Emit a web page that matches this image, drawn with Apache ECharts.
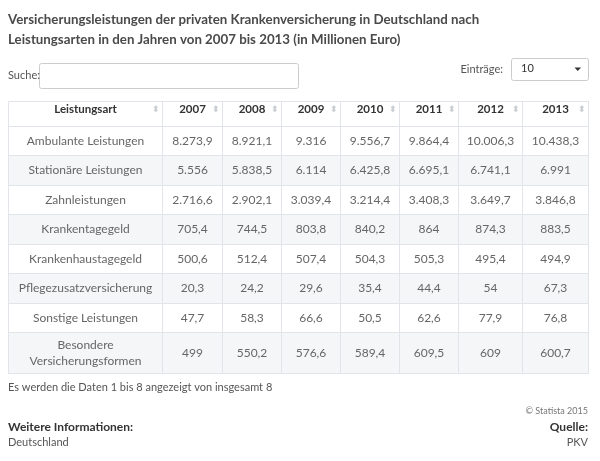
<!DOCTYPE html>
<html><head><meta charset="utf-8">
<script src="https://cdn.jsdelivr.net/npm/echarts@6/dist/echarts.min.js"></script>
<style>html,body{margin:0;padding:0;background:#fff}#c{width:600px;height:461px}</style>
</head><body><div id="c"></div>
<script>
const titleText = 'Versicherungsleistungen der privaten Krankenversicherung in Deutschland nach\nLeistungsarten in den Jahren von 2007 bis 2013 (in Millionen Euro)';
const firstHeader = 'Leistungsart';
const years = ['2007','2008','2009','2010','2011','2012','2013'];
const categories = ['Ambulante Leistungen','Stationäre Leistungen','Zahnleistungen','Krankentagegeld','Krankenhaustagegeld','Pflegezusatzversicherung','Sonstige Leistungen','Besondere\nVersicherungsformen'];
const ambulante = [8273.9, 8921.1, 9316, 9556.7, 9864.4, 10006.3, 10438.3];
const stationaer = [5556, 5838.5, 6114, 6425.8, 6695.1, 6741.1, 6991];
const zahn = [2716.6, 2902.1, 3039.4, 3214.4, 3408.3, 3649.7, 3846.8];
const krankentagegeld = [705.4, 744.5, 803.8, 840.2, 864, 874.3, 883.5];
const krankenhaustagegeld = [500.6, 512.4, 507.4, 504.3, 505.3, 495.4, 494.9];
const pflege = [20.3, 24.2, 29.6, 35.4, 44.4, 54, 67.3];
const sonstige = [47.7, 58.3, 66.6, 50.5, 62.6, 77.9, 76.8];
const besondere = [499, 550.2, 576.6, 589.4, 609.5, 609, 600.7];
const rowValues = [ambulante, stationaer, zahn, krankentagegeld, krankenhaustagegeld, pflege, sonstige, besondere];

const FONT = 'Lato, "Open Sans", sans-serif';
const BORDER = '#e1e5ea';
const STRIPE = '#f4f6f8';

function fmtDE(v) {
  const neg = v < 0; v = Math.abs(v);
  let intPart = Math.floor(v);
  let dec = Math.round((v - intPart) * 10);
  if (dec === 10) { intPart += 1; dec = 0; }
  let s = String(intPart).replace(/\B(?=(\d{3})+(?!\d))/g, '.');
  if (dec) s += ',' + dec;
  return (neg ? '-' : '') + s;
}

const colSizes = [154, 60, 59, 59, 59, 59, 64, 66];
const rowSizes = [29, 30, 29, 30, 29, 30, 29, 41];

const xData = [{ value: '{p1|}{t|' + firstHeader + '}{s1|⬍}', size: colSizes[0] }]
  .concat(years.map((y, i) => ({ value: '{p|}{t|' + y + '}{s|⬍}', size: colSizes[i + 1] })));
const yData = categories.map((c, i) => ({ value: 'r' + i, size: rowSizes[i] }));

const bodyData = [];
categories.forEach((c, r) => {
  const bg = r % 2 === 1 ? STRIPE : '#ffffff';
  bodyData.push({ coord: [0, r], value: c, itemStyle: { color: bg } });
  rowValues[r].forEach((v, k) => {
    bodyData.push({ coord: [k + 1, r], value: fmtDE(v), itemStyle: { color: bg } });
  });
});

function t(text, pos, size, weight, color, lh) {
  return Object.assign({ text: text, padding: 0, textStyle: { fontFamily: FONT, fontSize: size, fontWeight: weight, color: color, lineHeight: lh } }, pos);
}

const chart = echarts.init(document.getElementById('c'), null, { renderer: 'canvas' });
chart.setOption({
  backgroundColor: '#ffffff',
  animation: false,
  title: [
    t(titleText, { left: 8, top: 9.5 }, 13.3, 'bold', '#4a4a4a', 20),
    t('Suche:', { left: 8, top: 68 }, 11, 'normal', '#555', 14),
    t('Einträge:', { right: 97, top: 62 }, 11, 'normal', '#555', 14),
    t('Es werden die Daten 1 bis 8 angezeigt von insgesamt 8', { left: 8, top: 380.5 }, 11, 'normal', '#555', 14),
    t('© Statista 2015', { right: 12, top: 405 }, 9, 'normal', '#777', 12),
    t('Weitere Informationen:', { left: 8, top: 419.5 }, 12, 'bold', '#333', 15),
    t('Quelle:', { right: 12, top: 419.5 }, 12, 'bold', '#333', 15),
    t('Deutschland', { left: 8, top: 435.5 }, 11, 'normal', '#555', 14),
    t('PKV', { right: 12, top: 435.5 }, 11, 'normal', '#555', 14)
  ],
  graphic: [
    { type: 'rect', shape: { x: 39.5, y: 63.5, width: 259, height: 25, r: 2 }, style: { fill: '#fff', stroke: '#ccc', lineWidth: 1 } },
    { type: 'rect', shape: { x: 511.5, y: 58.5, width: 77, height: 22, r: 2 }, style: { fill: '#fff', stroke: '#ccc', lineWidth: 1 } },
    { type: 'text', x: 521, y: 63, style: { text: '10', font: '11px ' + FONT, fill: '#333' } },
    { type: 'polygon', shape: { points: [[574.5, 67.5], [581, 67.5], [577.75, 71]] }, style: { fill: '#333' } }
  ],
  matrix: {
    left: 8, top: 101, width: 580, height: 272,
    backgroundStyle: { color: '#fff', borderColor: BORDER, borderWidth: 1 },
    x: {
      levelSize: 25,
      data: xData,
      itemStyle: { color: '#fff', borderColor: BORDER, borderWidth: 1 },
      dividerLineStyle: { color: BORDER, width: 1 },
      label: {
        fontFamily: FONT, fontSize: 11.5, fontWeight: 'bold', color: '#333',
        rich: {
          t: { fontFamily: FONT, fontSize: 11.5, fontWeight: 'bold', color: '#333' },
          p: { width: 10 },
          s: { width: 10, align: 'right', fontFamily: 'DejaVu Sans', fontSize: 9, color: '#c9ced4' },
          p1: { width: 38 },
          s1: { width: 38, align: 'right', fontFamily: 'DejaVu Sans', fontSize: 9, color: '#c9ced4' }
        }
      }
    },
    y: {
      show: false,
      data: yData
    },
    body: {
      data: bodyData,
      itemStyle: { borderColor: BORDER, borderWidth: 1 },
      label: { fontFamily: FONT, fontSize: 12, color: '#666', lineHeight: 16, overflow: 'none' }
    }
  }
});
</script></body></html>
